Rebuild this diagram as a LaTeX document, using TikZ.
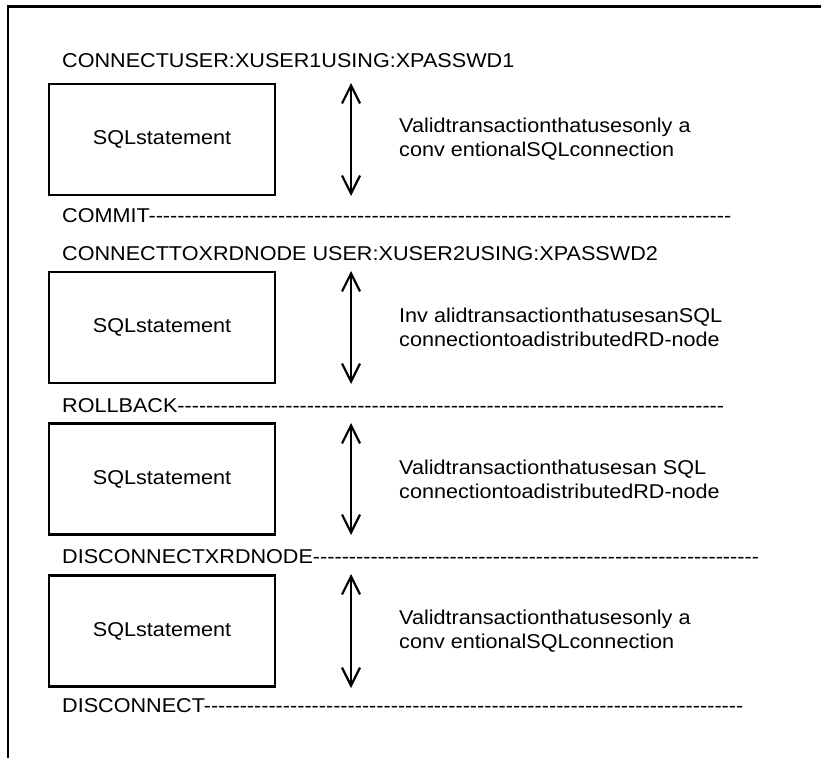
\documentclass[tikz,border=0pt]{standalone}
\usepackage{fontspec}
\setmainfont{Liberation Sans}[FakeStretch=1.08]
\usetikzlibrary{arrows.meta}

% a run of separate hyphens (the kerns keep them from fusing into dashes)
\ExplSyntaxOn
\NewDocumentCommand\dashrun{m}{\prg_replicate:nn{#1}{-\kern0pt}}
\ExplSyntaxOff

\tikzset{
  txt/.style={font=\fontsize{20}{24}\selectfont, inner sep=0pt, text=black},
  stmt/.style={txt, anchor=base west},
  sqlbox/.style={txt, draw, line width=2.2pt, minimum width=226pt, minimum height=111pt},
  note/.style={txt, align=left, anchor=west},
  span/.style={line width=2.2pt,
    {Straight Barb[length=18pt,width=18pt]}-{Straight Barb[length=18pt,width=18pt]}},
  frameline/.style={line width=2.6pt}
}

\begin{document}
\begin{tikzpicture}[x=1pt,y=-1pt]
\useasboundingbox (0,0) rectangle (821,758);

% open frame: top and left edges only
\coordinate (ftr) at (821,6.5);
\coordinate (ftl) at (8,6.5);
\coordinate (fbl) at (8,758);
\draw[frameline] (ftr) -- (ftl) -- (fbl);

% transaction 1
\node[stmt] (t1) at (62,67) {CONNECTUSER:XUSER1USING:XPASSWD1};
\node[sqlbox] (b1) at (162,139.5) {SQLstatement};
\coordinate (a1t) at (351,83);
\coordinate (a1b) at (351,196);
\draw[span] (a1t) -- (a1b);
\node[note] (n1) at (399,139.5) {Validtransactionthatusesonly a\\conv entionalSQLconnection};
\node[stmt] (c1) at (62,222) {COMMIT\dashrun{81}};

% transaction 2
\node[stmt] (t2) at (62,260) {CONNECTTOXRDNODE USER:XUSER2USING:XPASSWD2};
\node[sqlbox] (b2) at (162,327.5) {SQLstatement};
\coordinate (a2t) at (351,271);
\coordinate (a2b) at (351,384);
\draw[span] (a2t) -- (a2b);
\node[note] (n2) at (399,327.5) {Inv alidtransactionthatusesanSQL\\connectiontoadistributedRD-node};
\node[stmt] (c2) at (62,412) {ROLLBACK\dashrun{76}};

% transaction 3
\node[sqlbox] (b3) at (162,479) {SQLstatement};
\coordinate (a3t) at (351,423);
\coordinate (a3b) at (351,535);
\draw[span] (a3t) -- (a3b);
\node[note] (n3) at (399,479) {Validtransactionthatusesan SQL\\connectiontoadistributedRD-node};
\node[stmt] (c3) at (62,563) {DISCONNECTXRDNODE\dashrun{62}};

% transaction 4
\node[sqlbox] (b4) at (162,631) {SQLstatement};
\coordinate (a4t) at (351,574);
\coordinate (a4b) at (351,688);
\draw[span] (a4t) -- (a4b);
\node[note] (n4) at (399,631) {Validtransactionthatusesonly a\\conv entionalSQLconnection};
\node[stmt] (c4) at (62,712) {DISCONNECT\dashrun{75}};
\end{tikzpicture}
\end{document}
